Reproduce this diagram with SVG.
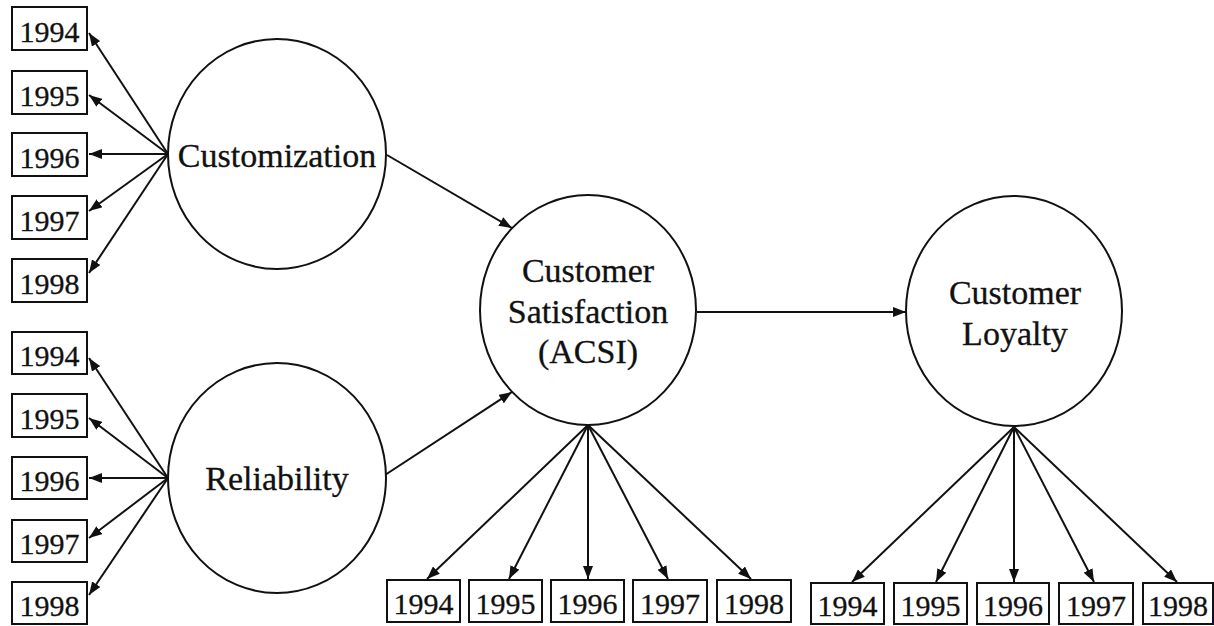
<svg xmlns="http://www.w3.org/2000/svg" width="1214" height="626" viewBox="0 0 1214 626">
<style>
.bg{fill:#fff}
.box{fill:#fff;stroke:#111;stroke-width:2}
.lat{fill:#fff;stroke:#111;stroke-width:2}
.yr{font-family:"Liberation Serif","Times New Roman",serif;font-size:30px;fill:#111;stroke:#111;stroke-width:0.3;text-anchor:middle}
.lbl{font-family:"Liberation Serif","Times New Roman",serif;font-size:34px;fill:#111;stroke:#111;stroke-width:0.3;text-anchor:middle}
.edge{stroke:#111;stroke-width:2;fill:none;marker-end:url(#ah)}
</style>
<defs>
<marker id="ah" markerUnits="userSpaceOnUse" markerWidth="13" markerHeight="10" refX="13" refY="5" orient="auto">
<path d="M0,0 L13,5 L0,10 z" fill="#111"/>
</marker>
</defs>
<rect class="bg" x="0" y="0" width="1214" height="626"/>

<g id="connectors">
<line class="edge" x1="168" y1="154" x2="89" y2="33"/>
<line class="edge" x1="168" y1="154" x2="89" y2="95"/>
<line class="edge" x1="168" y1="154" x2="89" y2="154"/>
<line class="edge" x1="168" y1="154" x2="89" y2="211"/>
<line class="edge" x1="168" y1="154" x2="89" y2="273"/>

<line class="edge" x1="168" y1="478" x2="89" y2="358"/>
<line class="edge" x1="168" y1="478" x2="89" y2="418"/>
<line class="edge" x1="168" y1="478" x2="89" y2="478"/>
<line class="edge" x1="168" y1="478" x2="89" y2="538"/>
<line class="edge" x1="168" y1="478" x2="89" y2="595"/>

<line class="edge" x1="387" y1="155" x2="512" y2="228"/>
<line class="edge" x1="385" y1="475" x2="512" y2="392"/>
<line class="edge" x1="697" y1="312" x2="906" y2="312"/>

<line class="edge" x1="588" y1="425" x2="427" y2="579"/>
<line class="edge" x1="588" y1="425" x2="509" y2="579"/>
<line class="edge" x1="588" y1="425" x2="588" y2="579"/>
<line class="edge" x1="588" y1="425" x2="668" y2="579"/>
<line class="edge" x1="588" y1="425" x2="751" y2="579"/>

<line class="edge" x1="1014" y1="427" x2="852" y2="582"/>
<line class="edge" x1="1014" y1="427" x2="936" y2="582"/>
<line class="edge" x1="1014" y1="427" x2="1014" y2="582"/>
<line class="edge" x1="1014" y1="427" x2="1094" y2="582"/>
<line class="edge" x1="1014" y1="427" x2="1177" y2="582"/>
</g>

<g id="customization">
<ellipse class="lat" cx="277" cy="154" rx="109" ry="115"/>
<text class="lbl" x="277" y="167">Customization</text>
</g>
<g id="reliability">
<ellipse class="lat" cx="277" cy="478" rx="109" ry="115"/>
<text class="lbl" x="277" y="490">Reliability</text>
</g>
<g id="satisfaction">
<ellipse class="lat" cx="588" cy="310" rx="108" ry="115"/>
<text class="lbl" x="588" y="282">Customer</text>
<text class="lbl" x="588" y="323">Satisfaction</text>
<text class="lbl" x="588" y="363">(ACSI)</text>
</g>
<g id="loyalty">
<ellipse class="lat" cx="1014" cy="311" rx="108" ry="115"/>
<text class="lbl" x="1015" y="304">Customer</text>
<text class="lbl" x="1015" y="345">Loyalty</text>
</g>

<g id="cust-1994"><rect class="box" x="12" y="7" width="75" height="43"/><text class="yr" x="49.5" y="42">1994</text></g>
<g id="cust-1995"><rect class="box" x="12" y="71" width="75" height="43"/><text class="yr" x="49.5" y="106">1995</text></g>
<g id="cust-1996"><rect class="box" x="12" y="133" width="75" height="43"/><text class="yr" x="49.5" y="168">1996</text></g>
<g id="cust-1997"><rect class="box" x="12" y="196" width="75" height="43"/><text class="yr" x="49.5" y="231">1997</text></g>
<g id="cust-1998"><rect class="box" x="12" y="259" width="75" height="43"/><text class="yr" x="49.5" y="294">1998</text></g>

<g id="rel-1994"><rect class="box" x="12" y="332" width="75" height="42"/><text class="yr" x="49.5" y="366">1994</text></g>
<g id="rel-1995"><rect class="box" x="12" y="394" width="75" height="43"/><text class="yr" x="49.5" y="429">1995</text></g>
<g id="rel-1996"><rect class="box" x="12" y="457" width="75" height="42"/><text class="yr" x="49.5" y="491">1996</text></g>
<g id="rel-1997"><rect class="box" x="12" y="520" width="75" height="42"/><text class="yr" x="49.5" y="554">1997</text></g>
<g id="rel-1998"><rect class="box" x="12" y="582" width="75" height="42"/><text class="yr" x="49.5" y="616">1998</text></g>

<g id="sat-1994"><rect class="box" x="387" y="580" width="73" height="42"/><text class="yr" x="423.5" y="614">1994</text></g>
<g id="sat-1995"><rect class="box" x="469" y="580" width="73" height="42"/><text class="yr" x="505.5" y="614">1995</text></g>
<g id="sat-1996"><rect class="box" x="551" y="580" width="73" height="42"/><text class="yr" x="587.5" y="614">1996</text></g>
<g id="sat-1997"><rect class="box" x="633" y="580" width="74" height="42"/><text class="yr" x="670" y="614">1997</text></g>
<g id="sat-1998"><rect class="box" x="717" y="580" width="74" height="42"/><text class="yr" x="754" y="614">1998</text></g>

<g id="loy-1994"><rect class="box" x="811" y="583" width="73" height="41"/><text class="yr" x="847.5" y="616">1994</text></g>
<g id="loy-1995"><rect class="box" x="894" y="583" width="73" height="41"/><text class="yr" x="930.5" y="616">1995</text></g>
<g id="loy-1996"><rect class="box" x="977" y="583" width="72" height="41"/><text class="yr" x="1013" y="616">1996</text></g>
<g id="loy-1997"><rect class="box" x="1059" y="583" width="74" height="41"/><text class="yr" x="1096" y="616">1997</text></g>
<g id="loy-1998"><rect class="box" x="1143" y="583" width="70" height="41"/><text class="yr" x="1178" y="616">1998</text></g>
</svg>
